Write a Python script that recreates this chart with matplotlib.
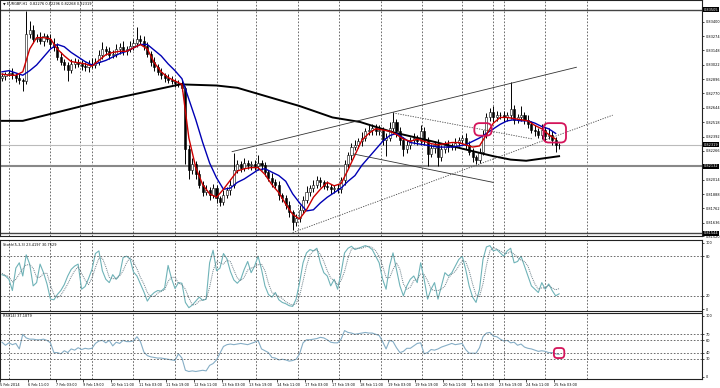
import numpy as np
import matplotlib.pyplot as plt
from matplotlib.patches import FancyBboxPatch

# ---- data (EURGBP H1, one candle per 2 hours) ----
first_open = 0.8291
close = [
    .8292, .8294, .8295, .8293, .8291, .8289, .8288, .8329, .8333, .8325,
    .8326, .8323, .8327, .8325, .8320, .8318, .8309, .8305, .8302, .8298,
    .8303, .8305, .8303, .8301, .8300, .8303, .8302, .8305, .8311, .8316,
    .8314, .8311, .8312, .8316, .8318, .8314, .8316, .8319, .8321, .8325,
    .8323, .8319, .8312, .8305, .8300, .8296, .8293, .8291, .8289, .8288,
    .8286, .8286, .8282, .8228, .8210, .8215, .8206, .8197, .8191, .8192,
    .8188, .8194, .8185, .8182, .8188, .8192, .8197, .8210, .8215, .8212,
    .8216, .8214, .8215, .8213, .8216, .8214, .8208, .8203, .8199, .8197,
    .8188, .8185, .8179, .8173, .8164, .8168, .8175, .8184, .8191, .8194,
    .8197, .8201, .8199, .8196, .8195, .8193, .8194, .8193, .8201, .8215,
    .8223, .8230, .8232, .8235, .8238, .8244, .8245, .8247, .8244, .8245,
    .8236, .8238, .8247, .8252, .8244, .8236, .8228, .8232, .8236, .8238,
    .8235, .8244, .8236, .8224, .8229, .8232, .8221, .8228, .8232, .8230,
    .8231, .8234, .8236, .8238, .8232, .8226, .8221, .8219, .8226, .8241,
    .8256, .8261, .8256, .8258, .8258, .8256, .8258, .8263, .8254, .8256,
    .8258, .8254, .8250, .8245, .8244, .8241, .8245, .8240, .8241, .8236,
    .8232, .8232]
# wick lengths in pips above / below the body
wick_up = [
    3, 2, 3, 4, 2, 3, 2, 20, 8, 4,
    3, 5, 3, 2, 4, 6, 3, 4, 2, 3,
    4, 3, 2, 3, 4, 3, 5, 3, 4, 6,
    3, 4, 3, 4, 3, 5, 3, 4, 4, 10,
    3, 4, 3, 2, 4, 3, 3, 2, 3, 3,
    2, 3, 3, 2, 4, 5, 3, 4, 3, 5,
    3, 4, 3, 2, 4, 3, 5, 15, 4, 3,
    4, 3, 3, 4, 7, 3, 3, 2, 4, 3,
    3, 2, 3, 4, 2, 3, 4, 3, 5, 3,
    4, 4, 3, 2, 4, 3, 3, 4, 3, 4,
    3, 4, 4, 3, 5, 3, 4, 3, 3, 4,
    3, 4, 5, 9, 3, 4, 3, 4, 3, 4,
    3, 5, 4, 3, 4, 3, 5, 4, 3, 4,
    3, 4, 3, 3, 4, 3, 3, 2, 3, 4,
    4, 3, 5, 4, 3, 4, 3, 24, 4, 3,
    8, 3, 4, 3, 4, 3, 5, 3, 6, 3,
    3, 2]
wick_dn = [
    3, 3, 2, 3, 4, 4, 9, 3, 3, 4,
    3, 3, 4, 3, 3, 4, 3, 3, 4, 10,
    3, 4, 3, 3, 3, 4, 3, 3, 3, 4,
    3, 4, 3, 3, 4, 3, 3, 3, 4, 3,
    3, 4, 3, 4, 3, 3, 3, 4, 3, 3,
    3, 3, 3, 13, 8, 4, 4, 3, 4, 3,
    4, 3, 4, 4, 3, 3, 4, 3, 3, 4,
    3, 3, 4, 3, 3, 4, 3, 3, 4, 3,
    4, 3, 3, 4, 7, 3, 4, 3, 3, 4,
    3, 3, 4, 3, 3, 4, 3, 3, 3, 4,
    3, 4, 3, 3, 4, 3, 3, 4, 3, 3,
    4, 14, 3, 3, 5, 4, 6, 3, 4, 3,
    3, 3, 4, 11, 3, 4, 8, 3, 3, 4,
    3, 4, 3, 3, 4, 3, 4, 4, 3, 3,
    3, 3, 4, 3, 3, 4, 3, 3, 4, 3,
    3, 4, 3, 3, 4, 3, 4, 5, 3, 4,
    6, 4]

# moving averages, read every 4 bars
ma_fast = [
    .8294, .8293, .8293, .8296, .8316, .8326, .8326, .8325, .8316, .8310,
    .8305, .8304, .8303, .8301, .8306, .8311, .8313, .8314, .8314, .8317,
    .8320, .8316, .8304, .8296, .8291, .8288, .8285, .8238, .8212, .8197,
    .8189, .8186, .8193, .8201, .8209, .8211, .8212, .8212, .8206, .8197,
    .8190, .8180, .8171, .8167, .8175, .8186, .8193, .8199, .8196, .8198,
    .8210, .8223, .8236, .8242, .8246, .8245, .8244, .8241, .8237, .8235,
    .8237, .8235, .8233, .8232, .8233, .8234, .8234, .8232, .8230, .8231,
    .8241, .8251, .8256, .8256, .8255, .8254, .8253, .8249, .8246, .8241,
    .8237]
ma_mid = [
    .8296, .8297, .8295, .8293, .8297, .8302, .8309, .8316, .8320, .8318,
    .8313, .8309, .8305, .8302, .8304, .8306, .8309, .8312, .8314, .8317,
    .8320, .8320, .8315, .8310, .8303, .8297, .8290, .8272, .8254, .8234,
    .8216, .8203, .8193, .8194, .8199, .8202, .8206, .8210, .8211, .8208,
    .8205, .8200, .8189, .8181, .8174, .8175, .8181, .8186, .8190, .8194,
    .8200, .8205, .8214, .8221, .8228, .8235, .8240, .8242, .8238, .8234,
    .8233, .8232, .8231, .8230, .8230, .8230, .8231, .8232, .8235, .8238,
    .8242, .8246, .8250, .8253, .8254, .8253, .8253, .8251, .8248, .8246,
    .8242]
ma_slow_bars = [0, 12, 57, 103, 124, 136, 172, 191, 207, 226, 246, 265, 284, 294, 303, 322]
ma_slow = [.8253, .8253, .8270, .8285, .8284, .8282, .8266, .8256, .8252, .8243,
           .8236, .8229, .8222, .8219, .8218, .8222]

stoch_main = [
    52, 50, 45, 28, 62, 70, 50, 82, 68, 35,
    40, 68, 55, 38, 15, 14, 22, 28, 37, 50,
    60, 65, 68, 30, 34, 46, 60, 84, 88, 58,
    45, 40, 52, 45, 52, 78, 80, 76, 56, 50,
    38, 26, 12, 20, 25, 28, 27, 32, 66, 46,
    31, 40, 39, 10, 2, 6, 12, 18, 13, 15,
    70, 89, 58, 62, 84, 76, 57, 44, 39, 45,
    60, 72, 55, 65, 80, 60, 35, 22, 18, 25,
    14, 10, 8, 5, 4, 15, 40, 70, 85, 90,
    88, 92, 70, 55, 50, 35, 45, 30, 55, 85,
    92, 95, 90, 92, 94, 96, 94, 90, 80, 70,
    45, 30, 65, 85, 60, 35, 20, 35, 45, 50,
    40, 70, 45, 15, 30, 40, 15, 35, 55, 50,
    55, 65, 75, 80, 60, 35, 18, 10, 30, 75,
    94, 96, 88, 90, 85, 80, 88, 92, 70, 72,
    80, 65, 50, 35, 30, 25, 40, 30, 38, 28,
    20, 23]
stoch_signal = [
    54, 51, 49, 41, 45, 53, 61, 67, 67, 62,
    48, 48, 54, 54, 36, 22, 17, 21, 29, 38,
    49, 58, 64, 54, 44, 37, 47, 63, 77, 77,
    64, 48, 46, 46, 50, 58, 70, 78, 71, 61,
    48, 38, 25, 19, 19, 24, 27, 29, 42, 48,
    48, 39, 37, 30, 17, 6, 7, 12, 14, 15,
    33, 58, 72, 70, 68, 74, 72, 59, 47, 43,
    48, 59, 62, 64, 67, 68, 58, 39, 25, 22,
    19, 16, 11, 8, 6, 8, 20, 42, 65, 82,
    88, 90, 83, 72, 58, 47, 43, 37, 43, 57,
    77, 91, 92, 92, 92, 94, 95, 93, 88, 80,
    65, 48, 47, 60, 70, 60, 38, 30, 33, 43,
    45, 53, 52, 43, 30, 28, 28, 30, 35, 47,
    53, 57, 65, 73, 72, 58, 38, 21, 19, 38,
    66, 88, 93, 91, 88, 85, 84, 87, 83, 78,
    74, 72, 65, 50, 38, 30, 32, 32, 36, 32,
    29, 31]
rsi = [
    57, 52, 56, 53, 55, 46, 70, 64, 62, 62,
    61, 61, 62, 60, 56, 40, 40, 38, 43, 40,
    46, 44, 48, 45, 47, 46, 47, 55, 59, 60,
    56, 60, 51, 57, 55, 60, 58, 58, 59, 66,
    58, 41, 35, 33, 32, 31, 31, 30, 29, 28,
    27, 38, 31, 11, 9, 10, 9, 10, 11, 10,
    19, 22, 28, 39, 50, 53, 54, 53, 54, 55,
    54, 53, 55, 57, 60, 46, 43, 40, 32, 31,
    28, 29, 28, 26, 27, 29, 38, 56, 61, 61,
    62, 63, 65, 64, 61, 57, 56, 56, 62, 76,
    73, 72, 70, 71, 72, 73, 72, 72, 70, 68,
    58, 46, 60, 58, 48, 40, 42, 47, 47, 51,
    55, 56, 38, 40, 45, 44, 46, 49, 51, 53,
    55, 53, 54, 55, 45, 39, 39, 39, 48, 66,
    72, 73, 67, 66, 62, 59, 60, 56, 57, 52,
    54, 49, 47, 46, 44, 42, 43, 42, 40, 40,
    38, 37]

price_ticks = [0.83400, 0.83274, 0.83148, 0.83022, 0.82896, 0.82770, 0.82644,
               0.82518, 0.82392, 0.82266, 0.82014, 0.81888, 0.81762, 0.81636, 0.81520]
price_boxes = [0.83505, 0.82319, 0.82132, 0.81544]
time_label_bars = [-1, 15, 31, 47, 63, 79, 95, 111, 127, 143, 159, 175, 191, 207,
                   223, 239, 255, 271, 287, 303, 319]
time_labels = ['5 Feb 2014', '6 Feb 11:00', '7 Feb 03:00', '9 Feb 19:00', '10 Feb 11:00',
               '11 Feb 03:00', '11 Feb 19:00', '12 Feb 11:00', '13 Feb 03:00', '13 Feb 19:00',
               '14 Feb 11:00', '17 Feb 03:00', '17 Feb 19:00', '18 Feb 11:00', '19 Feb 03:00',
               '19 Feb 19:00', '20 Feb 11:00', '21 Feb 03:00', '23 Feb 19:00', '24 Feb 11:00',
               '25 Feb 03:00']
day_breaks = [4, 28, 45, 52, 76, 100, 124, 147, 171, 195, 219, 243, 266, 284, 290, 314, 338]

# drawn objects: (bar, price) pairs
trend_solid = [((133, .8226), (332, .8300)), ((203, .8224), (284, .8199))]
trend_dotted = [((168, .8155), (353, .8258)), ((226, .8260), (307, .8237))]
marks_price = [(273, .8240, 283, .8251), (313, .8234, 326, .8251)]
marks_rsi = [(319, 31, 325, 47.5)]

# ---- layout (pixel based) ----
W, H = 720, 388


def rect(x0, y0, x1, y1):
    return [x0 / W, 1 - y1 / H, (x1 - x0) / W, (y1 - y0) / H]


fig = plt.figure(figsize=(7.2, 3.88), dpi=100)
ax = fig.add_axes(rect(0, 0, 702, 236))
ax_st = fig.add_axes(rect(0, 240, 702, 311), sharex=ax)
ax_rsi = fig.add_axes(rect(0, 312.5, 702, 379), sharex=ax)

fs = 2.5
grid_kw = dict(color='#555555', lw=0.6, ls=(0, (2, 2)))

for a in (ax, ax_st, ax_rsi):
    for s in a.spines.values():
        s.set_color('#222222')
        s.set_linewidth(0.8)
    a.yaxis.tick_right()
    a.tick_params(axis='y', labelsize=fs, length=1.5, pad=1, width=0.5)
    for b in day_breaks:
        a.axvline(b, zorder=0, **grid_kw)

ax.set_xlim(-1.16, 404.6)

# candles
bars = 2 * np.arange(len(close))
c = np.array(close)
o = np.r_[first_open, c[:-1]]
hi = np.maximum(o, c) + np.array(wick_up) * 1e-4
lo = np.minimum(o, c) - np.array(wick_dn) * 1e-4
ax.vlines(bars, lo, hi, color='black', lw=0.7, zorder=3)
bull = c >= o
ax.bar(bars[bull], (c - o)[bull], bottom=o[bull], width=1.2, color='white',
       edgecolor='black', linewidth=0.4, zorder=4)
ax.bar(bars[~bull], (o - c)[~bull], bottom=c[~bull], width=1.2, color='black',
       edgecolor='black', linewidth=0.4, zorder=4)

ma_bars = 4 * np.arange(len(ma_fast))
ax.plot(ma_slow_bars, ma_slow, color='black', lw=1.4, zorder=5)
ax.plot(ma_bars, ma_mid, color='#0000b4', lw=1.0, zorder=6)
ax.plot(ma_bars, ma_fast, color='#cc0000', lw=1.0, zorder=7)

# horizontal levels
ax.axhline(price_boxes[0], color='#444444', lw=1.0, zorder=2)
ax.axhline(price_boxes[1], color='#bbbbbb', lw=0.8, zorder=2)
ax.axhline(price_boxes[2], color='#888888', lw=1.5, zorder=2)
ax.axhline(price_boxes[3], color='#444444', lw=1.0, zorder=2)

for (b0, p0), (b1, p1) in trend_solid:
    ax.plot([b0, b1], [p0, p1], color='#333333', lw=0.6, zorder=8)
for (b0, p0), (b1, p1) in trend_dotted:
    ax.plot([b0, b1], [p0, p1], color='#444444', lw=0.6, ls=(0, (1.5, 1.5)), zorder=8)

ax.set_ylim(0.81520, 0.83590)
ax.set_yticks(price_ticks)
ax.set_yticklabels([f'{v:.5f}' for v in price_ticks])
for v in price_boxes:
    ax.annotate(f'{v:.5f}', xy=(1, v), xycoords=('axes fraction', 'data'),
                xytext=(1.2, 0), textcoords='offset points', fontsize=fs,
                color='white', va='center', ha='left', annotation_clip=False,
                bbox=dict(boxstyle='square,pad=0.15', fc='black', ec='none'))

ax.text(0.004, 0.983, '\u25bc EURGBP,H1  0.82276 0.82296 0.82268 0.82319',
        transform=ax.transAxes, fontsize=fs, va='center', ha='left')

# red marks
ppx_price = (0.83590 - 0.81520) / 236
ppx_bar = 405.76 / 702
for b0, p0, b1, p1 in marks_price:
    ax.add_patch(FancyBboxPatch((b0, p0), b1 - b0, p1 - p0,
                                boxstyle='round,pad=0,rounding_size=3',
                                mutation_aspect=ppx_price / ppx_bar,
                                fill=False, ec='#d4145a', lw=1.3, zorder=9))

# stochastic
ax_st.plot(bars, stoch_main, color='#6fb3b8', lw=0.8)
ax_st.plot(bars, stoch_signal, color='#6a7f88', lw=0.7, ls=(0, (1, 1)))
for lvl in (80, 20):
    ax_st.axhline(lvl, **grid_kw)
ax_st.set_ylim(-3, 104.5)
ax_st.set_yticks([100, 80, 20, 0])
ax_st.text(0.004, 0.93, 'Stoch(5,3,3) 23.4197 30.7629', transform=ax_st.transAxes,
           fontsize=fs, va='center', ha='left')

# rsi
ax_rsi.plot(bars, rsi, color='#86aec6', lw=0.8)
for lvl in (70, 60, 40, 30):
    ax_rsi.axhline(lvl, **grid_kw)
ax_rsi.set_ylim(-3.3, 105.7)
ax_rsi.set_yticks([100, 70, 60, 40, 30, 0])
ax_rsi.text(0.004, 0.947, 'RSI(14) 37.1879', transform=ax_rsi.transAxes,
            fontsize=fs, va='center', ha='left')
ppx_rsi = 109 / 66.5
for b0, v0, b1, v1 in marks_rsi:
    ax_rsi.add_patch(FancyBboxPatch((b0, v0), b1 - b0, v1 - v0,
                                    boxstyle='round,pad=0,rounding_size=2',
                                    mutation_aspect=ppx_rsi / ppx_bar,
                                    fill=False, ec='#d4145a', lw=1.3, zorder=9))

for a in (ax, ax_st):
    a.tick_params(axis='x', bottom=False, labelbottom=False)
ax_rsi.set_xticks(time_label_bars)
ax_rsi.set_xticklabels(time_labels)
ax_rsi.tick_params(axis='x', labelsize=fs, length=2, pad=1, width=0.5)
for t in ax_rsi.get_xticklabels():
    t.set_ha('left')

fig.savefig('out.png', dpi=100, facecolor='white')
